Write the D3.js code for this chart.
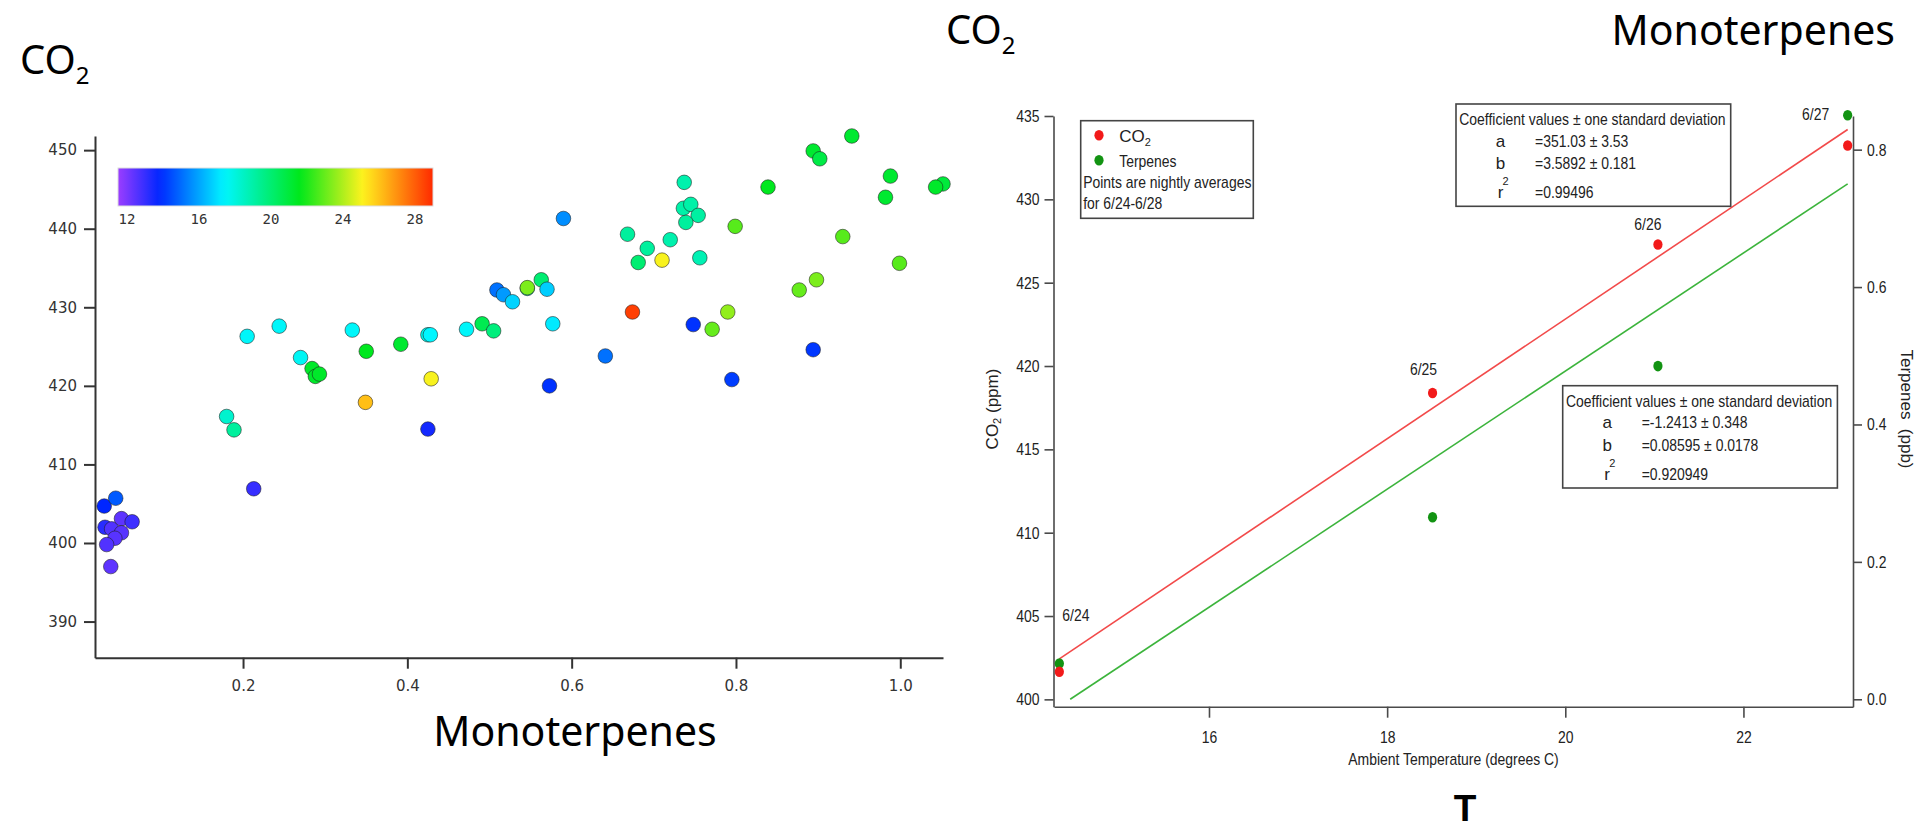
<!DOCTYPE html>
<html><head><meta charset="utf-8">
<script src="https://cdn.jsdelivr.net/npm/d3@7"></script>
<style>
html,body{margin:0;padding:0;background:#fff;overflow:hidden}
svg{display:block}
</style></head><body>
<svg id="chart" width="1917" height="829"></svg>
<script>
// ================= DATA =================
// Left panel: CO2 (ppm) vs monoterpenes (ppb), colour = temperature (°C)
const monoterpenes = [0.031,0.045,0.032,0.040,0.052,0.065,0.052,0.044,0.034,0.039,
  0.180,0.189,0.205,0.213,0.244,0.270,0.284,0.288,0.293,0.333,
  0.350,0.349,0.392,0.425,0.428,0.429,0.425,0.472,0.491,0.505,
  0.509,0.517,0.528,0.546,0.546,0.563,0.570,0.577,0.573,0.590,
  0.641,0.674,0.668,0.692,0.681,0.710,0.720,0.737,0.736,0.745,
  0.754,0.739,0.756,0.748,0.771,0.790,0.795,0.799,0.839,0.877,
  0.898,0.894,0.894,0.902,0.930,0.941,0.982,0.988,0.999,1.052,1.043];
const co2Left = [404.7,405.7,402.0,401.8,403.1,402.7,401.3,400.6,399.8,397.0,
  416.1,414.4,426.3,406.9,427.6,423.6,422.2,421.2,421.5,427.1,
  424.4,417.9,425.3,426.5,426.5,420.9,414.5,427.2,427.9,427.0,
  432.2,431.6,430.7,432.4,432.5,433.5,432.3,427.9,420.0,441.3,
  423.8,429.4,439.3,437.5,435.7,436.0,438.6,445.9,442.6,443.1,
  441.7,440.8,436.3,427.8,427.2,429.4,420.8,440.3,445.3,432.2,
  433.5,424.6,449.9,448.9,439.0,451.8,444.0,446.7,435.6,445.7,445.3];
const tempLeft = [13.8,14.7,13.2,12.6,12.4,12.9,12.5,12.5,12.6,12.4,
  18.3,19.2,17.5,13.0,17.5,17.6,21.3,21.3,21.3,17.5,
  21.5,26.1,21.2,17.8,17.4,25.0,13.5,17.5,20.6,19.8,
  15.1,15.8,16.8,18.5,23.3,20.0,16.7,17.2,14.0,15.6,
  15.1,28.6,19.2,19.2,20.0,25.0,18.9,18.9,19.0,19.0,
  19.1,19.2,18.8,14.0,23.0,23.6,14.2,22.8,21.5,23.0,
  23.3,14.1,21.2,20.8,22.8,21.2,21.2,21.2,22.8,21.0,21.3];
const leftYTicks = [390,400,410,420,430,440,450];
const leftXTicks = [0.2,0.4,0.6,0.8,1.0];
const colorbarTicks = [12,16,20,24,28];
const colorStops = [11.5,13.8,17.4,21.6,25.1,29.0];
const colorStopColors = ["#9b3dff","#0026ff","#00f6ff","#00e81a","#fff21e","#ff2a00"];

// Right panel: nightly averages vs ambient temperature
const nightDates = ["6/24","6/25","6/26","6/27"];
const nightTemps = [14.32,18.51,21.04,23.17];
const nightCO2 = [401.66,418.38,427.29,433.23];
const nightTerp = [0.052,0.265,0.485,0.850];
const co2FitCoef = [351.03,3.5892];
const terpFitCoef = [-1.2413,0.08595];
const co2FitLabels = ["a","b","r"];
const co2FitValues = ["=351.03 ± 3.53","=3.5892 ± 0.181","=0.99496"];
const terpFitValues = ["=-1.2413 ± 0.348","=0.08595 ± 0.0178","=0.920949"];
const rightYTicks = [400,405,410,415,420,425,430,435];
const rightY2Ticks = [0.0,0.2,0.4,0.6,0.8];
const rightXTicks = [16,18,20,22];

// ================= DRAW =================
const svg = d3.select('#chart');

// font detection for condensed text
function tw(family, size, str){
  const t = svg.append('text').attr('font-family',family).attr('font-size',size).text(str);
  const w = t.node().getComputedTextLength(); t.remove(); return w;
}
const probe = "Points are nightly averages";
const narrowOK = Math.abs(tw("'Liberation Sans Narrow', monospace",17,probe) - tw("monospace",17,probe)) > 3;
const NARROW = narrowOK ? "'Liberation Sans Narrow'" : "'Liberation Sans', Arial, sans-serif";
function squeeze(sel){
  if (narrowOK) return sel;
  sel.each(function(){
    const w = this.getComputedTextLength();
    d3.select(this).attr('textLength', w*0.82).attr('lengthAdjust','spacingAndGlyphs');
  });
  return sel;
}
const BIG = "'Noto Sans', 'Open Sans', sans-serif";

// ---------- Left panel ----------
const xL = d3.scaleLinear().domain([0.0198,1.052]).range([95,943]);
const yL = d3.scaleLinear().domain([385.4,451.8]).range([657.7,136]);
const color = d3.scaleLinear().domain(colorStops).range(colorStopColors).clamp(true);

const gL = svg.append('g');
gL.append('g').attr('transform','translate(95,0)')
  .call(d3.axisLeft(yL).tickValues(leftYTicks).tickSize(11).tickSizeOuter(0).tickPadding(7).tickFormat(d3.format('d')))
  .call(g=>{
    g.select('.domain').attr('stroke','#333').attr('stroke-width',2);
    g.selectAll('.tick line').attr('stroke','#333').attr('stroke-width',2);
    g.selectAll('.tick text').attr('font-family','DejaVu Sans').attr('font-size',15).attr('fill','#333');
  });
gL.append('g').attr('transform','translate(0,657.7)')
  .call(d3.axisBottom(xL).tickValues(leftXTicks).tickSize(11).tickSizeOuter(0).tickPadding(12).tickFormat(d3.format('.1f')))
  .call(g=>{
    g.select('.domain').attr('stroke','#333').attr('stroke-width',2);
    g.selectAll('.tick line').attr('stroke','#333').attr('stroke-width',2);
    g.selectAll('.tick text').attr('font-family','DejaVu Sans').attr('font-size',15).attr('fill','#333');
  });

// colour bar
const cb = d3.scaleLinear().domain([11.5,29]).range([118,433]);
const defs = svg.append('defs');
const grad = defs.append('linearGradient').attr('id','rainbow').attr('x1','0%').attr('x2','100%').attr('y1','0%').attr('y2','0%');
d3.range(0,41).forEach(i=>{
  const t = 11.5 + i*(29-11.5)/40;
  grad.append('stop').attr('offset',(i/40*100)+'%').attr('stop-color',color(t));
});
gL.append('rect').attr('x',cb.range()[0]).attr('y',168).attr('width',cb.range()[1]-cb.range()[0]).attr('height',38)
  .attr('fill','url(#rainbow)').attr('stroke','#ddd').attr('stroke-width',1);
gL.selectAll('.cbt').data(colorbarTicks).enter().append('text').attr('class','cbt')
  .attr('x',d=>cb(d)).attr('y',224).attr('text-anchor','middle')
  .attr('font-family','DejaVu Sans Mono').attr('font-size',14).attr('fill','#333').text(d=>d);

// points
const leftPts = monoterpenes.map((m,i)=>({m, c:co2Left[i], t:tempLeft[i]}));
gL.selectAll('circle.pt').data(leftPts).enter().append('circle').attr('class','pt')
  .attr('cx',d=>xL(d.m)).attr('cy',d=>yL(d.c)).attr('r',7.3)
  .attr('fill',d=>color(d.t)).attr('stroke','rgba(30,30,30,0.55)').attr('stroke-width',1);

// titles of left panel
const t1 = svg.append('text').attr('x',20).attr('y',74).attr('font-family',BIG).attr('font-size',40).attr('fill','#000');
t1.append('tspan').text('CO');
t1.append('tspan').attr('font-size',24).attr('dy',10).text('2');
svg.append('text').attr('x',(95+943)/2+56).attr('y',745.5).attr('text-anchor','middle')
  .attr('font-family',BIG).attr('font-size',41).attr('fill','#000').text('Monoterpenes');

// ---------- Right panel ----------
const xR = d3.scaleLinear().domain([14.26,23.23]).range([1054,1853]);
const yR = d3.scaleLinear().domain([399.56,435]).range([706.7,116]);
const yR2 = d3.scaleLinear().domain([-0.0108,0.849]).range([706.7,116]);
const gR = svg.append('g');
const AX = '#4a4a4a';
function styleAxis(g){
  g.select('.domain').attr('stroke',AX).attr('stroke-width',1.6);
  g.selectAll('.tick line').attr('stroke',AX).attr('stroke-width',1.6);
  g.selectAll('.tick text').attr('font-family',NARROW).attr('font-size',17).attr('fill','#222').call(squeeze);
}
gR.append('g').attr('transform','translate(1053.5,0)')
  .call(d3.axisLeft(yR).tickValues(rightYTicks).tickSize(9).tickSizeOuter(0).tickPadding(5).tickFormat(d3.format('d')))
  .call(styleAxis);
gR.append('g').attr('transform','translate(0,706.7)')
  .call(d3.axisBottom(xR).tickValues(rightXTicks).tickSize(11).tickSizeOuter(0).tickPadding(13).tickFormat(d3.format('d')))
  .call(styleAxis);
gR.append('g').attr('transform','translate(1853,0)')
  .call(d3.axisRight(yR2).tickValues(rightY2Ticks).tickSize(9).tickSizeOuter(0).tickPadding(5).tickFormat(d3.format('.1f')))
  .call(styleAxis);

// axis labels
squeeze(gR.append('text').attr('x',(1054+1853)/2).attr('y',765).attr('text-anchor','middle')
  .attr('font-family',NARROW).attr('font-size',17).attr('fill','#222').text('Ambient Temperature (degrees C)'));
const yl = gR.append('text').attr('transform','translate(998,409) rotate(-90)').attr('text-anchor','middle')
  .attr('font-family',"'Liberation Sans', Arial, sans-serif").attr('font-size',17).attr('fill','#222');
yl.append('tspan').text('CO');
yl.append('tspan').attr('font-size',11).attr('dy',3).text('2');
yl.append('tspan').attr('dy',-3).text('  (ppm)');
gR.append('text').attr('transform','translate(1901.3,409) rotate(90)').attr('text-anchor','middle')
  .attr('font-family',"'Liberation Sans', Arial, sans-serif").attr('font-size',17).attr('fill','#222')
  .attr('xml:space','preserve').text('Terpenes  (ppb)');

// fit lines
const tMin = d3.min(nightTemps), tMax = d3.max(nightTemps);
const co2Line = [tMin,tMax].map(t=>[xR(t), yR(co2FitCoef[0]+co2FitCoef[1]*t)]);
const tStartTerp = Math.max(tMin, -terpFitCoef[0]/terpFitCoef[1]);
const terpLine = [tStartTerp,tMax].map(t=>[xR(t), yR2(terpFitCoef[0]+terpFitCoef[1]*t)]);
gR.append('path').attr('d',d3.line()(co2Line)).attr('stroke','#f24a4a').attr('stroke-width',1.6).attr('fill','none');
gR.append('path').attr('d',d3.line()(terpLine)).attr('stroke','#3cb43c').attr('stroke-width',1.6).attr('fill','none');

// points
const RED = '#f21a1a', GREEN = '#129312';
gR.selectAll('.tp').data(nightTemps).enter().append('ellipse').attr('class','tp')
  .attr('cx',d=>xR(d)).attr('cy',(d,i)=>yR2(nightTerp[i])).attr('rx',4.6).attr('ry',5.3).attr('fill',GREEN);
gR.selectAll('.cp').data(nightTemps).enter().append('ellipse').attr('class','cp')
  .attr('cx',d=>xR(d)).attr('cy',(d,i)=>yR(nightCO2[i])).attr('rx',4.6).attr('ry',5.3).attr('fill',RED);

// date labels (layout offsets relative to the CO2 point)
const dateLabelLayout = [[3,-51,'start'],[-9,-18,'middle'],[-10,-15,'middle'],[-32,-26,'middle']];
gR.selectAll('.dl').data(nightDates).enter().append('text').attr('class','dl')
  .attr('x',(d,i)=>xR(nightTemps[i])+dateLabelLayout[i][0])
  .attr('y',(d,i)=>yR(nightCO2[i])+dateLabelLayout[i][1])
  .attr('text-anchor',(d,i)=>dateLabelLayout[i][2])
  .attr('font-family',NARROW).attr('font-size',17).attr('fill','#222').text(d=>d).call(squeeze);

// legend box
const lg = gR.append('g').attr('transform','translate(1080.7,120.7)');
lg.append('rect').attr('width',172.6).attr('height',97.6).attr('fill','#fff').attr('stroke','#444').attr('stroke-width',1.6);
lg.append('ellipse').attr('cx',18.3).attr('cy',14.5).attr('rx',4.6).attr('ry',5.3).attr('fill',RED);
lg.append('ellipse').attr('cx',18.3).attr('cy',39.5).attr('rx',4.6).attr('ry',5.3).attr('fill',GREEN);
const lc = lg.append('text').attr('x',38.5).attr('y',21).attr('font-family',NARROW).attr('font-size',17).attr('fill','#222');
lc.append('tspan').text('CO');
lc.append('tspan').attr('font-size',11).attr('dy',4).text('2');
squeeze(lg.append('text').attr('x',38.5).attr('y',46).attr('font-family',NARROW).attr('font-size',17).attr('fill','#222').text('Terpenes'));
squeeze(lg.append('text').attr('x',2.5).attr('y',67.6).attr('font-family',NARROW).attr('font-size',17).attr('fill','#222').text('Points are nightly averages'));
squeeze(lg.append('text').attr('x',2.5).attr('y',88.6).attr('font-family',NARROW).attr('font-size',17).attr('fill','#222').text('for 6/24-6/28'));

// coefficient boxes
function coefBox(x0,y0,values){
  const g = gR.append('g').attr('transform',`translate(${x0},${y0})`);
  g.append('rect').attr('width',274.7).attr('height',102.3).attr('fill','#fff').attr('stroke','#444').attr('stroke-width',1.6);
  squeeze(g.append('text').attr('x',3.3).attr('y',21).attr('font-family',NARROW).attr('font-size',17).attr('fill','#222')
    .text('Coefficient values ± one standard deviation'));
  const rows = [42.8,65,94.3];
  co2FitLabels.forEach((lab,i)=>{
    g.append('text').attr('x',44.5).attr('y',rows[i]).attr('text-anchor','middle')
      .attr('font-family',NARROW).attr('font-size',17).attr('fill','#222').text(lab);
    squeeze(g.append('text').attr('x',79).attr('y',rows[i])
      .attr('font-family',NARROW).attr('font-size',17).attr('fill','#222').text(values[i]));
  });
  g.append('text').attr('x',46.5).attr('y',81).attr('font-family',NARROW).attr('font-size',11).attr('fill','#222').text('2');
}
coefBox(1456,104,co2FitValues);
coefBox(1562.7,385.7,terpFitValues);

// slide titles for right panel
const t2 = svg.append('text').attr('x',946).attr('y',43.5).attr('font-family',BIG).attr('font-size',40).attr('fill','#000');
t2.append('tspan').text('CO');
t2.append('tspan').attr('font-size',24).attr('dy',10).text('2');
svg.append('text').attr('x',1895).attr('y',44.5).attr('text-anchor','end')
  .attr('font-family',BIG).attr('font-size',41).attr('fill','#000').text('Monoterpenes');
svg.append('text').attr('x',1465).attr('y',821).attr('text-anchor','middle')
  .attr('font-family',"'Liberation Sans', Arial, sans-serif").attr('font-weight','bold').attr('font-size',37).attr('fill','#000').text('T');
</script>
</body></html>
